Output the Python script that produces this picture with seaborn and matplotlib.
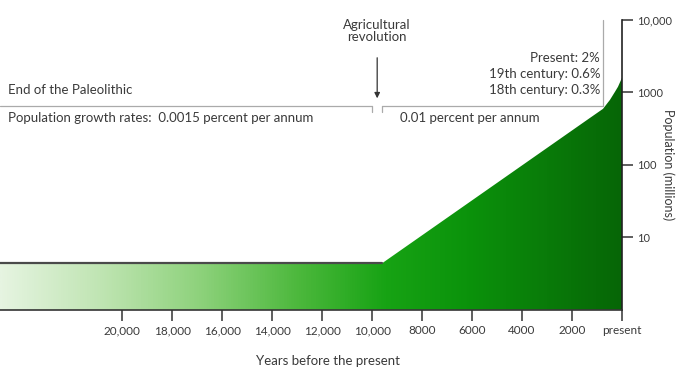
import numpy as np
import pandas as pd
import matplotlib
matplotlib.use('Agg')
import matplotlib.pyplot as plt
import seaborn as sns
from matplotlib.colors import LinearSegmentedColormap

# 数据: 年份(距今, 负数) 与 人口(百万)
years = [-25000, -9600, -1280, -760, -480, -280, -160, 0]
population = [4.4, 4.4, 445, 593, 790, 1020, 1195, 1590]

xtick_pos = [-20000, -18000, -16000, -14000, -12000, -10000, -8000, -6000, -4000, -2000, 0]
xtick_labels = ['20,000', '18,000', '16,000', '14,000', '12,000', '10,000',
                '8000', '6000', '4000', '2000', 'present']
ytick_pos = [10, 100, 1000, 10000]
ytick_labels = ['10', '100', '1000', '10,000']

sns.set_style('ticks')
plt.rcParams['font.family'] = ['Lato', 'DejaVu Sans']

text_color = '#3a3a3a'
fs = 9.5
df = pd.DataFrame({'year': years, 'pop': population})

fig = plt.figure(figsize=(6.82, 3.83), dpi=100)
ax = fig.add_axes([0, 0.191, 0.912, 0.757])
ax.set_yscale('log')
ax.set_xlim(-24900, 0)
ax.set_ylim(1, 10000)

# 渐变填充
poly = ax.fill_between(df['year'], df['pop'], 1, color='none', lw=0)
cmap = LinearSegmentedColormap.from_list('grn', [
    (0.0, '#e6f4e1'), (0.16, '#c0e5b3'), (0.32, '#8ed27c'), (0.48, '#4cb83c'),
    (0.62, '#17a314'), (0.75, '#0b930b'), (0.88, '#097b09'), (1.0, '#066606')])
grad = np.linspace(0, 1, 512).reshape(1, -1)
im = ax.imshow(grad, cmap=cmap, aspect='auto', extent=[0, 1, 0, 1],
               transform=ax.transAxes, zorder=1)
im.set_clip_path(poly.get_paths()[0], transform=ax.transData)

# 平坦部分的轮廓线
flat = df[df['pop'] == df['pop'].min()]
sns.lineplot(data=flat, x='year', y='pop', ax=ax, color='#4a4a4a', lw=1.6, zorder=3)

# 坐标轴
for s in ['left', 'top']:
    ax.spines[s].set_visible(False)
ax.spines['right'].set_color('#222222')
ax.spines['bottom'].set_color('#333333')
ax.spines['right'].set_linewidth(1.2)
ax.spines['bottom'].set_linewidth(1.2)
ax.yaxis.tick_right()
ax.set_yticks(ytick_pos)
ax.set_yticklabels(ytick_labels)
ax.minorticks_off()
ax.set_xticks(xtick_pos)
ax.set_xticklabels(xtick_labels)
ax.tick_params(axis='both', direction='out', length=8, width=1.1, color='#333333',
               labelcolor=text_color, pad=3)
ax.tick_params(axis='x', labelsize=8.5)
ax.tick_params(axis='y', labelsize=8)
ax.set_xlabel('Years before the present', fontsize=9.5, color=text_color)
ax.xaxis.set_label_coords(0.527, -0.155)
ax.yaxis.set_label_position('right')
ax.set_ylabel('Population (millions)', fontsize=9, color=text_color, rotation=270, va='center')
ax.yaxis.set_label_coords(1.074, 0.5)

# 注释
tr = ax.get_xaxis_transform()
ax.text(-9800, 0.962, 'Agricultural\nrevolution', transform=tr, ha='center', va='center',
        fontsize=fs, color=text_color, linespacing=1.05)
ax.annotate('', xy=(-9800, 0.72), xytext=(-9800, 0.879), xycoords=tr, textcoords=tr,
            arrowprops=dict(arrowstyle='-|>', color='#333333', lw=0.9, mutation_scale=8))
ax.text(-24560, 0.758, 'End of the Paleolithic', transform=tr, ha='left', va='center',
        fontsize=fs, color=text_color)
ax.text(-24560, 0.661, 'Population growth rates:  0.0015 percent per annum', transform=tr,
        ha='left', va='center', fontsize=fs, color=text_color)
ax.text(-8880, 0.661, '0.01 percent per annum', transform=tr, ha='left', va='center',
        fontsize=fs, color=text_color)
for yy, t in zip([0.869, 0.813, 0.758], ['Present: 2%', '19th century: 0.6%', '18th century: 0.3%']):
    ax.text(-880, yy, t, transform=tr, ha='right', va='center', fontsize=fs, color=text_color)

gray = '#aaaaaa'
ax.plot([-24900, -10000], [0.703, 0.703], transform=tr, color=gray, lw=0.9, clip_on=False)
ax.plot([-9600, -760], [0.703, 0.703], transform=tr, color=gray, lw=0.9, clip_on=False)
ax.plot([-760, -760], [0.703, 1.0], transform=tr, color=gray, lw=0.9, clip_on=False)
for xx in [-10000, -9600]:
    ax.plot([xx, xx], [0.703, 0.682], transform=tr, color=gray, lw=0.9)

fig.savefig('out.png', dpi=100)
